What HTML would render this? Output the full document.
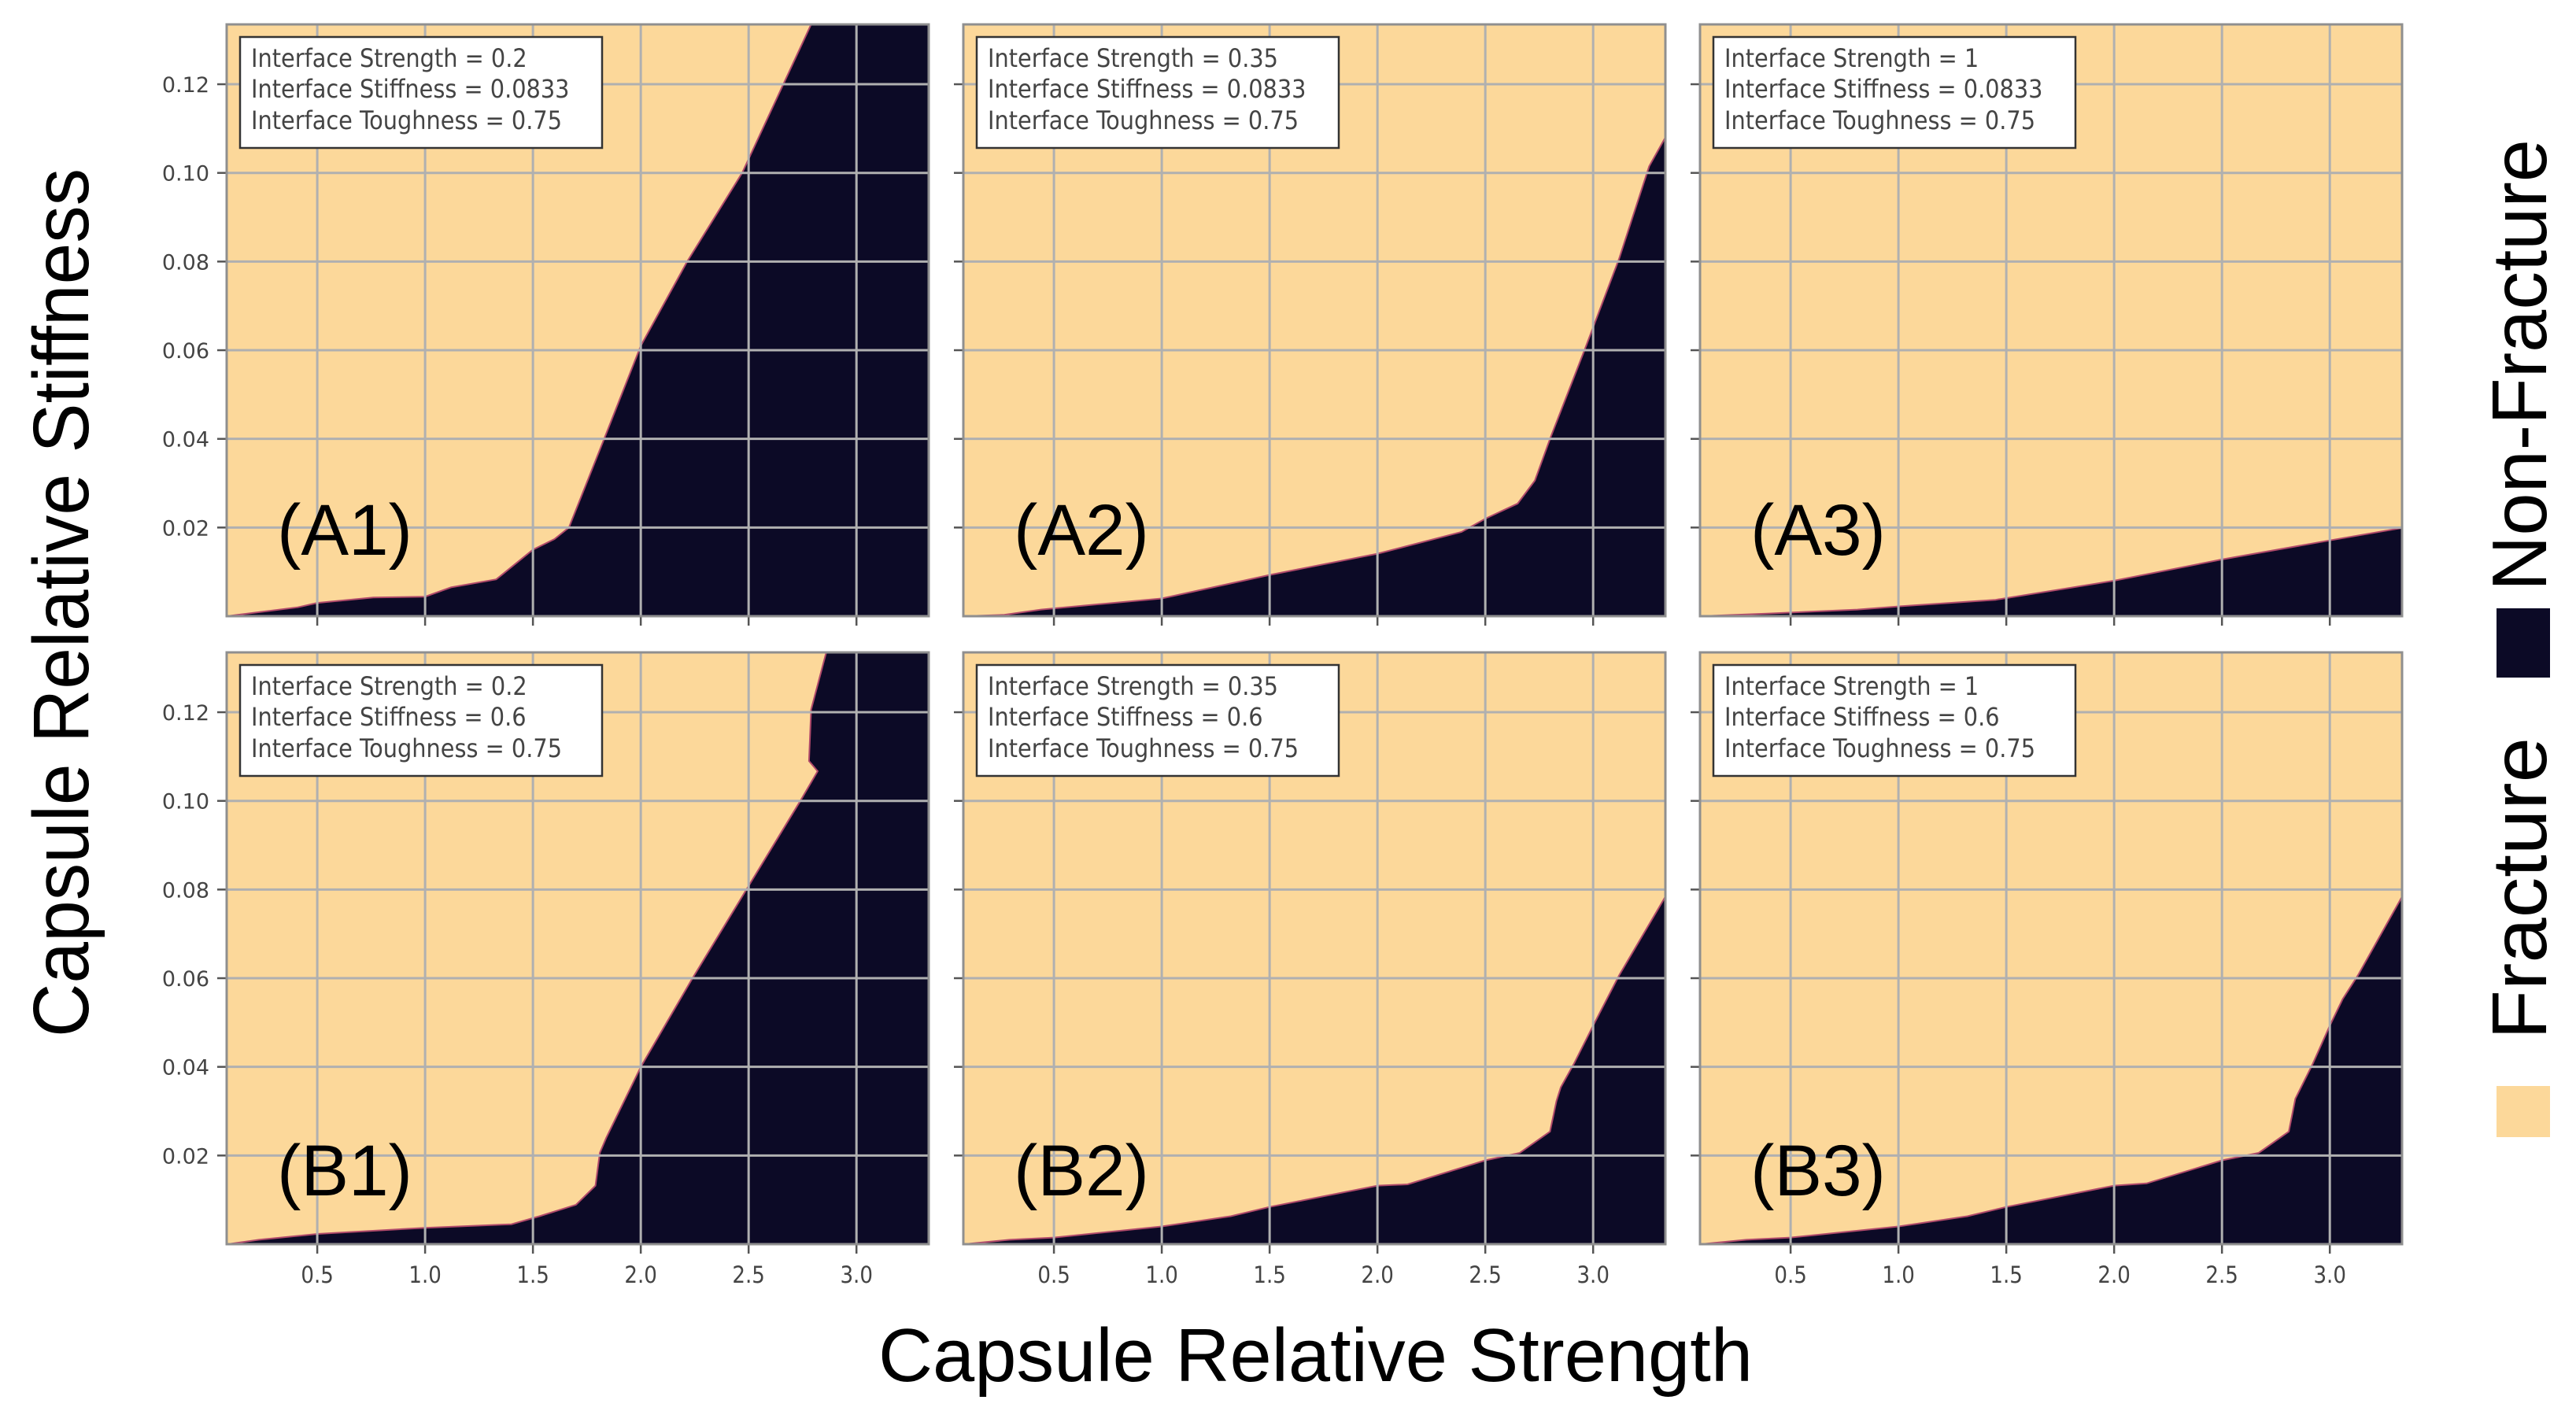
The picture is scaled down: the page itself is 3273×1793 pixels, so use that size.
<!DOCTYPE html>
<html><head><meta charset="utf-8"><style>
html,body{margin:0;padding:0;background:#fff;}
svg{display:block;}
</style></head>
<body>
<svg id="fig" xmlns="http://www.w3.org/2000/svg" width="3273" height="1793" viewBox="0 0 3273 1793">
<rect x="0" y="0" width="3273" height="1793" fill="#ffffff"/>
<g id="panels"></g>
<text x="1116" y="1755" font-family="Liberation Sans, sans-serif" font-size="96" fill="#000" textLength="1111" lengthAdjust="spacingAndGlyphs">Capsule Relative Strength</text>
<text transform="translate(112,1318) rotate(-90)" x="0" y="0" font-family="Liberation Sans, sans-serif" font-size="100" fill="#000" textLength="1104" lengthAdjust="spacingAndGlyphs">Capsule Relative Stiffness</text>
<g>
<text transform="translate(3235,751) rotate(-90)" font-family="Liberation Sans, sans-serif" font-size="98" fill="#000" textLength="574" lengthAdjust="spacingAndGlyphs">Non-Fracture</text>
<rect x="3172" y="773" width="68" height="88" fill="#0c0a26"/>
<text transform="translate(3235,1321) rotate(-90)" font-family="Liberation Sans, sans-serif" font-size="98" fill="#000" textLength="384" lengthAdjust="spacingAndGlyphs">Fracture</text>
<rect x="3172" y="1380" width="68" height="65" fill="#fcd89a"/>
</g>
</svg>
<script>
// Axis limits
const xDomain = [0.08, 3.335];
const yDomain = [0, 0.1335];
const xTicks = [0.5, 1.0, 1.5, 2.0, 2.5, 3.0];
const xTickLabels = ["0.5", "1.0", "1.5", "2.0", "2.5", "3.0"];
const yTicks = [0.02, 0.04, 0.06, 0.08, 0.10, 0.12];
const yTickLabels = ["0.02", "0.04", "0.06", "0.08", "0.10", "0.12"];

const panelNames = ["A1", "A2", "A3", "B1", "B2", "B3"];
const interfaceStrength = ["0.2", "0.35", "1", "0.2", "0.35", "1"];
const interfaceStiffness = ["0.0833", "0.0833", "0.0833", "0.6", "0.6", "0.6"];
const interfaceToughness = ["0.75", "0.75", "0.75", "0.75", "0.75", "0.75"];

// Fracture / non-fracture boundary (capsule strength, capsule stiffness)
const bxA1 = [0.08, 0.245, 0.41, 0.5, 0.76, 1.0, 1.12, 1.33, 1.5, 1.6, 1.667, 1.83, 2.0, 2.215, 2.47, 2.79];
const byA1 = [0.0, 0.001, 0.002, 0.003, 0.0042, 0.0044, 0.0065, 0.0083, 0.015, 0.0174, 0.02, 0.04, 0.061, 0.08, 0.10, 0.1335];
const bxA2 = [0.085, 0.27, 0.44, 1.0, 1.5, 2.0, 2.39, 2.5, 2.65, 2.73, 2.8, 2.96, 3.12, 3.26, 3.335];
const byA2 = [0.0, 0.0003, 0.0015, 0.004, 0.0093, 0.0141, 0.019, 0.022, 0.0254, 0.0306, 0.040, 0.060, 0.0806, 0.1015, 0.108];
const bxA3 = [0.085, 0.40, 0.81, 1.0, 1.45, 2.0, 2.5, 3.0, 3.335];
const byA3 = [0.0, 0.0006, 0.0015, 0.0022, 0.0037, 0.008, 0.0128, 0.0171, 0.0199];
const bxB1 = [0.085, 0.23, 0.5, 1.0, 1.4, 1.53, 1.7, 1.79, 1.81, 1.84, 2.0, 2.24, 2.49, 2.74, 2.82, 2.78, 2.79, 2.86];
const byB1 = [0.0, 0.001, 0.0023, 0.0037, 0.0045, 0.0063, 0.0089, 0.0132, 0.0206, 0.024, 0.040, 0.060, 0.080, 0.100, 0.1067, 0.109, 0.1206, 0.1335];
const bxB2 = [0.085, 0.295, 0.5, 1.0, 1.32, 1.5, 2.0, 2.14, 2.5, 2.66, 2.8, 2.83, 2.85, 2.91, 3.0, 3.12, 3.335];
const byB2 = [0.0, 0.001, 0.0015, 0.004, 0.0063, 0.0084, 0.0132, 0.0135, 0.0189, 0.0206, 0.0254, 0.0323, 0.0354, 0.0406, 0.0493, 0.0606, 0.0784];
const bxB3 = [0.085, 0.295, 0.5, 1.0, 1.32, 1.5, 2.0, 2.15, 2.5, 2.67, 2.81, 2.84, 2.92, 3.0, 3.06, 3.13, 3.335];
const byB3 = [0.0, 0.001, 0.0015, 0.004, 0.0063, 0.0084, 0.0132, 0.0137, 0.0189, 0.0206, 0.0254, 0.0328, 0.0406, 0.0493, 0.0553, 0.0606, 0.0784];

const boundaryX = [bxA1, bxA2, bxA3, bxB1, bxB2, bxB3];
const boundaryY = [byA1, byA2, byA3, byB1, byB2, byB3];

const NS = "http://www.w3.org/2000/svg";
const colLeft = [288, 1224, 2160];
const rowTop = [31, 829];
const PW = 892, PH = 752;
const BEIGE = "#fcd89a", DARK = "#0c0a26";
const root = document.getElementById("panels");

function mk(tag, attrs, parent) {
  const e = document.createElementNS(NS, tag);
  for (const k in attrs) e.setAttribute(k, attrs[k]);
  parent.appendChild(e);
  return e;
}

for (let p = 0; p < 6; p++) {
  const col = p % 3, row = Math.floor(p / 3);
  const L = colLeft[col], T = rowTop[row];
  const sx = v => L + (v - xDomain[0]) / (xDomain[1] - xDomain[0]) * PW;
  const sy = v => T + PH - (v - yDomain[0]) / (yDomain[1] - yDomain[0]) * PH;

  const g = mk("g", {}, root);
  
  

  const cp = mk("clipPath", {id: "clip" + p}, g);
  mk("rect", {x: L, y: T, width: PW, height: PH}, cp);

  const bg = mk("rect", {x: L, y: T, width: PW, height: PH, fill: BEIGE}, g);
  
  

  const bx = boundaryX[p], by = boundaryY[p];
  let pts = [[sx(xDomain[0]), sy(0)]];
  for (let i = 0; i < bx.length; i++) pts.push([sx(bx[i]), sy(by[i])]);
  pts.push([sx(xDomain[1]), sy(by[by.length - 1])]);
  pts.push([sx(xDomain[1]), sy(0)]);
  const poly = mk("polygon", {points: pts.map(q => q[0].toFixed(1) + "," + q[1].toFixed(1)).join(" "), fill: DARK, "clip-path": "url(#clip" + p + ")"}, g);
  
  

  const edge = mk("polyline", {points: pts.slice(1, bx.length + 1).map(q => q[0].toFixed(1) + "," + q[1].toFixed(1)).join(" "), fill: "none", stroke: "#b04a6a", "stroke-width": 2, "clip-path": "url(#clip" + p + ")"}, g);
  
  

  for (let i = 0; i < xTicks.length; i++) {
    const x = sx(xTicks[i]);
    const gl = mk("line", {x1: x, x2: x, y1: T, y2: T + PH, stroke: "#b0b0b0", "stroke-width": 3}, g);
    
    
    const tk = mk("line", {x1: x, x2: x, y1: T + PH, y2: T + PH + 12, stroke: "#555", "stroke-width": 2.5}, g);
    
    
    if (row === 1) {
      const t = mk("text", {x: x, y: 1630, "text-anchor": "middle", "font-family": "DejaVu Sans Condensed, DejaVu Sans, sans-serif", "font-size": 29, fill: "#444"}, g);
      t.textContent = xTickLabels[i];
      
      
    }
  }
  for (let i = 0; i < yTicks.length; i++) {
    const y = sy(yTicks[i]);
    const gl = mk("line", {x1: L, x2: L + PW, y1: y, y2: y, stroke: "#b0b0b0", "stroke-width": 3}, g);
    
    
    const tk = mk("line", {x1: L - 12, x2: L, y1: y, y2: y, stroke: "#555", "stroke-width": 2.5}, g);
    
    
    if (col === 0) {
      const t = mk("text", {x: 266, y: y + 10, "text-anchor": "end", "font-family": "DejaVu Sans, sans-serif", "font-size": 27, fill: "#444"}, g);
      t.textContent = yTickLabels[i];
      
      
    }
  }

  const frame = mk("rect", {x: L, y: T, width: PW, height: PH, fill: "none", stroke: "#8f8f8f", "stroke-width": 3}, g);
  
  

  const box = mk("g", {}, g);
  
  
  mk("rect", {x: L + 17, y: T + 16, width: 460, height: 141, fill: "#fff", stroke: "#333", "stroke-width": 2.5}, box);
  const lines = ["Interface Strength = " + interfaceStrength[p], "Interface Stiffness = " + interfaceStiffness[p], "Interface Toughness = " + interfaceToughness[p]];
  const offs = [54, 93, 133];
  for (let i = 0; i < 3; i++) {
    const t = mk("text", {x: L + 31, y: T + offs[i], "font-family": "DejaVu Sans Condensed, DejaVu Sans, sans-serif", "font-stretch": "condensed", "font-size": 32, fill: "#444"}, box);
    t.textContent = lines[i];
    
    
  }

  const lab = mk("text", {x: L + 64, y: T + (row === 0 ? 674 : 690), "font-family": "Liberation Sans, sans-serif", "font-size": 92, fill: "#000", textLength: 172, lengthAdjust: "spacingAndGlyphs"}, g);
  lab.textContent = "(" + panelNames[p] + ")";
  
  
}
</script>
</body></html>
